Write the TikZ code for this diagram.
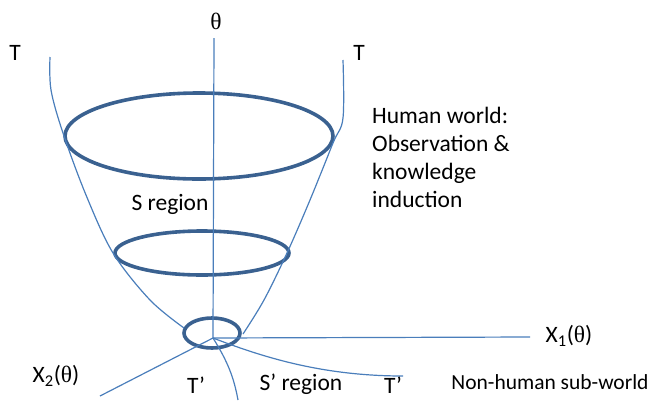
\documentclass[tikz,border=0pt]{standalone}
\usepackage{fontspec}
\setmainfont{Carlito}
\newfontfamily\greekfont{Liberation Serif}
\usetikzlibrary{positioning}

\definecolor{ringblue}{HTML}{3A6190}
\definecolor{lineblue}{HTML}{4A7EBB}
\newcommand{\thsym}{{\greekfont θ}}

\begin{document}
\begin{tikzpicture}[
    x=1pt, y=-1pt,
    ring/.style={draw=ringblue, line width=3.6pt},
    thin/.style={draw=lineblue, line width=1.2pt},
    lbl/.style={inner sep=0pt, font=\fontsize{23.5}{28}\selectfont}
]
\useasboundingbox (0,0) rectangle (651,400);

% rings of the cone
\draw[ring] (199,136) ellipse [x radius=134pt, y radius=43pt];
\draw[ring] (202,253) ellipse [x radius=87pt, y radius=22pt];
\draw[ring] (212,333) ellipse [x radius=28pt, y radius=15pt];

\coordinate (O) at (213,338);
\coordinate (thtop) at (214,38);
\coordinate (xoneend) at (530,337);
\coordinate (xtwoend) at (100,396);
\coordinate (tpaend) at (238,400);
\coordinate (tpbend) at (403,376);

% cone sides
\draw[thin] plot[smooth, tension=0.55] coordinates {(50,57) (51,90) (63,133) (86,195) (113,253) (150,300) (184,328)};
\draw[thin] plot[smooth, tension=0.55] coordinates {(343,60) (343,118) (333,143) (310,200) (287,253) (264,300) (243,334)};

% axes
\draw[thin] (O) -- (thtop);
\draw[thin] (O) -- (xoneend);
\draw[thin] (O) -- (xtwoend);
\draw[thin] (O) .. controls (228,362) and (234,378) .. (tpaend);
\draw[thin] (O) .. controls (260,356) and (320,376) .. (tpbend);

% labels
\node[lbl] (theta) at (216,21) {\thsym};
\node[lbl] (tleft) at (15,53) {T};
\node[lbl] (tright) at (359,53) {T};
\node[lbl] (sreg) at (170,204) {S region};
\node[lbl, anchor=north west, align=left] (human) at (372,107) {Human world:\\Observation \&\\knowledge\\induction};
\node[lbl] (xone) at (569,336) {X\textsubscript{1}(\thsym)};
\node[lbl] (xtwo) at (56,376) {X\textsubscript{2}(\thsym)};
\node[lbl] (tprimea) at (196,385) {T’};
\node[lbl] (sprime) at (301,384) {S’ region};
\node[lbl] (tprimeb) at (393,385) {T’};
\node[lbl, font=\fontsize{21.5}{26}\selectfont] (nonhuman) at (550,382) {Non-human sub-world};

\end{tikzpicture}
\end{document}
